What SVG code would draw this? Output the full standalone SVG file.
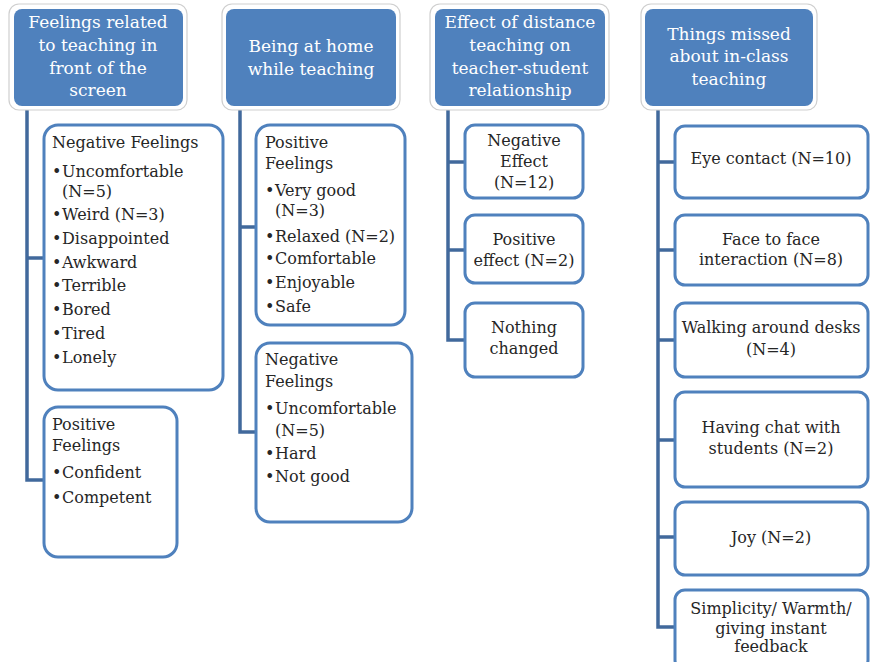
<svg xmlns="http://www.w3.org/2000/svg" width="870" height="662" viewBox="0 0 870 662">
<style>
.hdo{fill:#ffffff;stroke:#cfcfcf;stroke-width:1.2}
.hdi{fill:#4f81bd}
.ht{font-family:"DejaVu Serif","Liberation Serif",serif;font-size:17px;fill:#ffffff;text-anchor:middle}
.bx{fill:#ffffff;stroke:#4f81bd;stroke-width:3}
.t{font-family:"DejaVu Serif","Liberation Serif",serif;font-size:16px;fill:#262626}
.c{text-anchor:middle}
.con{fill:none;stroke:#41699c;stroke-width:3.5}
</style>
<rect width="870" height="662" fill="#ffffff"/>
<g id="connectors">
<path class="con" d="M27,106 V480 H44 M27,258 H44"/>
<path class="con" d="M240,106 V432 H256 M240,227 H256"/>
<path class="con" d="M448,106 V340 H465 M448,162 H465 M448,250 H465"/>
<path class="con" d="M658,106 V627 H675 M658,162 H675 M658,250 H675 M658,340 H675 M658,440 H675 M658,537 H675"/>
</g>
<g id="h1">
<rect class="hdo" x="9" y="4" width="178" height="106" rx="10"/>
<rect class="hdi" x="14" y="9" width="169" height="97" rx="8"/>
<text class="ht" x="98" y="28">Feelings related</text>
<text class="ht" x="98" y="51">to teaching in</text>
<text class="ht" x="98" y="74">front of the</text>
<text class="ht" x="98" y="96">screen</text>
</g>
<g id="h2">
<rect class="hdo" x="222" y="4" width="178" height="106" rx="10"/>
<rect class="hdi" x="226" y="9" width="170" height="97" rx="8"/>
<text class="ht" x="311" y="52">Being at home</text>
<text class="ht" x="311" y="75">while teaching</text>
</g>
<g id="h3">
<rect class="hdo" x="430" y="4" width="179" height="106" rx="10"/>
<rect class="hdi" x="435" y="9" width="170" height="97" rx="8"/>
<text class="ht" x="520" y="28">Effect of distance</text>
<text class="ht" x="520" y="51">teaching on</text>
<text class="ht" x="520" y="74">teacher-student</text>
<text class="ht" x="520" y="96">relationship</text>
</g>
<g id="h4">
<rect class="hdo" x="641" y="4" width="176" height="106" rx="10"/>
<rect class="hdi" x="645" y="9" width="168" height="97" rx="8"/>
<text class="ht" x="729" y="40">Things missed</text>
<text class="ht" x="729" y="62">about in-class</text>
<text class="ht" x="729" y="85">teaching</text>
</g>
<g id="c1neg">
<rect class="bx" x="44" y="125" width="179" height="265" rx="14"/>
<text class="t" x="52" y="148">Negative Feelings</text>
<text class="t" x="52" y="177">•</text><text class="t" x="62" y="177">Uncomfortable</text>
<text class="t" x="62" y="197">(N=5)</text>
<text class="t" x="52" y="220">•</text><text class="t" x="62" y="220">Weird (N=3)</text>
<text class="t" x="52" y="244">•</text><text class="t" x="62" y="244">Disappointed</text>
<text class="t" x="52" y="268">•</text><text class="t" x="62" y="268">Awkward</text>
<text class="t" x="52" y="291">•</text><text class="t" x="62" y="291">Terrible</text>
<text class="t" x="52" y="315">•</text><text class="t" x="62" y="315">Bored</text>
<text class="t" x="52" y="339">•</text><text class="t" x="62" y="339">Tired</text>
<text class="t" x="52" y="363">•</text><text class="t" x="62" y="363">Lonely</text>
</g>
<g id="c1pos">
<rect class="bx" x="44" y="407" width="133" height="150" rx="14"/>
<text class="t" x="52" y="430">Positive</text>
<text class="t" x="52" y="451">Feelings</text>
<text class="t" x="52" y="478">•</text><text class="t" x="62" y="478">Confident</text>
<text class="t" x="52" y="503">•</text><text class="t" x="62" y="503">Competent</text>
</g>
<g id="c2pos">
<rect class="bx" x="256" y="125" width="149" height="200" rx="14"/>
<text class="t" x="265" y="148">Positive</text>
<text class="t" x="265" y="169">Feelings</text>
<text class="t" x="265" y="196">•</text><text class="t" x="275" y="196">Very good</text>
<text class="t" x="275" y="216">(N=3)</text>
<text class="t" x="265" y="242">•</text><text class="t" x="275" y="242">Relaxed (N=2)</text>
<text class="t" x="265" y="264">•</text><text class="t" x="275" y="264">Comfortable</text>
<text class="t" x="265" y="288">•</text><text class="t" x="275" y="288">Enjoyable</text>
<text class="t" x="265" y="312">•</text><text class="t" x="275" y="312">Safe</text>
</g>
<g id="c2neg">
<rect class="bx" x="256" y="343" width="156" height="179" rx="14"/>
<text class="t" x="265" y="365">Negative</text>
<text class="t" x="265" y="387">Feelings</text>
<text class="t" x="265" y="414">•</text><text class="t" x="275" y="414">Uncomfortable</text>
<text class="t" x="275" y="436">(N=5)</text>
<text class="t" x="265" y="459">•</text><text class="t" x="275" y="459">Hard</text>
<text class="t" x="265" y="482">•</text><text class="t" x="275" y="482">Not good</text>
</g>
<g id="c3a">
<rect class="bx" x="465" y="125" width="118" height="73" rx="10"/>
<text class="t c" x="524" y="146">Negative</text>
<text class="t c" x="524" y="167">Effect</text>
<text class="t c" x="524" y="188">(N=12)</text>
</g>
<g id="c3b">
<rect class="bx" x="465" y="215" width="118" height="68" rx="10"/>
<text class="t c" x="524" y="245">Positive</text>
<text class="t c" x="524" y="266">effect (N=2)</text>
</g>
<g id="c3c">
<rect class="bx" x="465" y="303" width="118" height="74" rx="10"/>
<text class="t c" x="524" y="333">Nothing</text>
<text class="t c" x="524" y="354">changed</text>
</g>
<g id="c4a">
<rect class="bx" x="675" y="126" width="193" height="72" rx="10"/>
<text class="t c" x="771" y="164">Eye contact (N=10)</text>
</g>
<g id="c4b">
<rect class="bx" x="675" y="215" width="193" height="70" rx="10"/>
<text class="t c" x="771" y="245">Face to face</text>
<text class="t c" x="771" y="265">interaction (N=8)</text>
</g>
<g id="c4c">
<rect class="bx" x="675" y="303" width="193" height="74" rx="10"/>
<text class="t c" x="771" y="333">Walking around desks</text>
<text class="t c" x="771" y="355">(N=4)</text>
</g>
<g id="c4d">
<rect class="bx" x="675" y="392" width="193" height="95" rx="10"/>
<text class="t c" x="771" y="433">Having chat with</text>
<text class="t c" x="771" y="454">students (N=2)</text>
</g>
<g id="c4e">
<rect class="bx" x="675" y="502" width="193" height="73" rx="10"/>
<text class="t c" x="771" y="543">Joy (N=2)</text>
</g>
<g id="c4f">
<rect class="bx" x="675" y="590" width="193" height="80" rx="10"/>
<text class="t c" x="771" y="614">Simplicity/ Warmth/</text>
<text class="t c" x="771" y="634">giving instant</text>
<text class="t c" x="771" y="652">feedback</text>
</g>
</svg>
